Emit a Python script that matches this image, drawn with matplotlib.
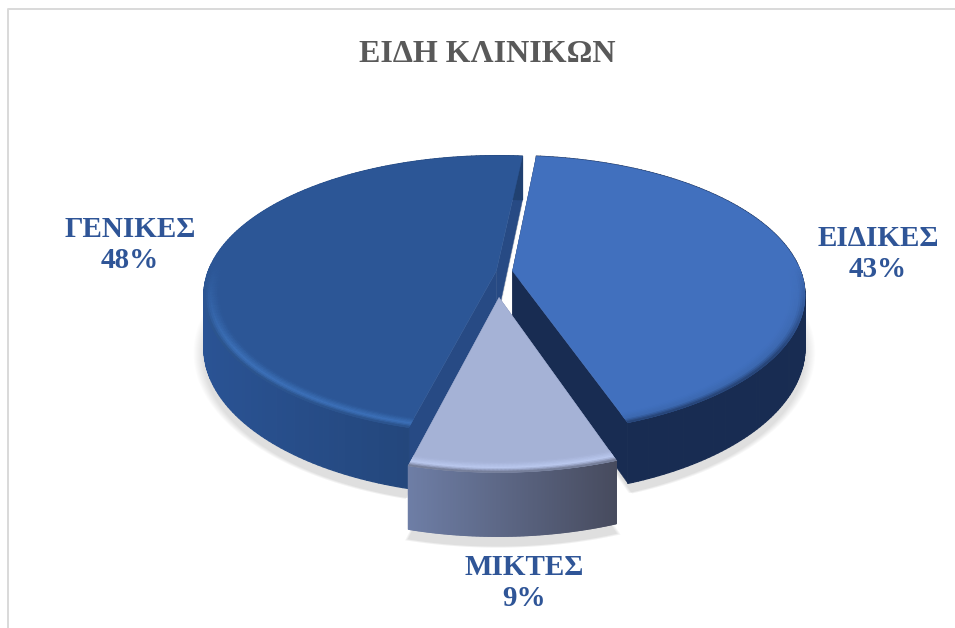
import numpy as np
import matplotlib
matplotlib.use("Agg")
import matplotlib.pyplot as plt
from matplotlib.collections import PolyCollection
from matplotlib.colors import to_rgb


# order is clockwise from the top of the pie
categories = ["ΕΙΔΙΚΕΣ", "ΜΙΚΤΕΣ", "ΓΕΝΙΚΕΣ"]
shares = [43.0, 9.4, 47.6]

title = "ΕΙΔΗ ΚΛΙΝΙΚΩΝ"
start_angle = 5.8

explode = [(0.026, 0.0), (-0.02, 0.19), (-0.03, 0.0)]
top_colors = ["#4170BE", "#A5B2D6", "#2C5696"]
rim_colors = ["#3C68B0", "#BBC9F0", "#3D72BA"]
wall_colors = ["#182C52", "#6E7EA6", "#274A84"]
side_left = ["#182C52", "#6E7EA6", "#2A5394"]
side_right = ["#182C52", "#474B5E", "#20406F"]
label_pos = [(878, 254), (524, 583), (130, 245)]

# projection of the tilted disc on to the figure, in pixels
cx, cy = 505, 271
a, b = 288, 135
k = 0.17
depth = 51


def project(X, Y, z=0):
    s = 1 / (1 - k * np.asarray(Y))
    return cx + a * np.asarray(X) * s, cy + b * np.asarray(Y) * s + z * s


def disc_point(theta, r, off):
    t = np.radians(theta)
    return off[0] + r * np.sin(t), off[1] - r * np.cos(t)


def mix(c1, c2, w):
    return tuple((1 - w) * np.array(to_rgb(c1)) + w * np.array(to_rgb(c2)))


def outline(t0, t1, off, r=1.0, z=0):
    th = np.linspace(t0, t1, 120)
    X, Y = disc_point(th, r, off)
    px, py = project(X, Y, z)
    ax_, ay_ = project(off[0], off[1], z)
    return np.column_stack([np.r_[ax_, px], np.r_[ay_, py]])


def add_cells(ax, cells, colors, zorder, lw=0.9):
    pc = PolyCollection(cells, facecolors=colors, edgecolors=colors,
                        linewidths=lw, zorder=zorder)
    ax.add_collection(pc)


def draw_shadow(ax, t0, t1, off):
    n = 32
    for i in range(n):
        pts = outline(t0, t1, off, r=1.0 + 0.0011 * (n - i), z=depth + 3 + i * 0.15)
        ax.fill(pts[:, 0], pts[:, 1], color="black", alpha=0.0045, lw=0, zorder=1)


def draw_slice(ax, t0, t1, off, i, zorder):
    # flat walls towards the middle of the pie
    for t in (t0, t1):
        x0, y0 = project(off[0], off[1])
        x3, y3 = project(off[0], off[1], depth)
        X, Y = disc_point(t, 1.0, off)
        x1, y1 = project(X, Y)
        x2, y2 = project(X, Y, depth)
        ax.fill([x0, x1, x2, x3], [y0, y1, y2, y3], color=wall_colors[i],
                lw=0.3, zorder=zorder)

    # outer side, shaded from left to right on the screen
    th = np.linspace(t0, t1, 160)
    cells, colors = [], []
    X, Y = disc_point(th, 1.0, off)
    xt, yt = project(X, Y)
    xb, yb = project(X, Y, depth)
    for j in range(len(th) - 1):
        cells.append([(xt[j], yt[j]), (xt[j + 1], yt[j + 1]),
                      (xb[j + 1], yb[j + 1]), (xb[j], yb[j])])
        w = np.clip((xt[j] - xt.min()) / (xt.max() - xt.min()), 0, 1)
        colors.append(mix(side_left[i], side_right[i], w))
    add_cells(ax, cells, colors, zorder + 0.1)

    # top face
    pts = outline(t0, t1, off)
    ax.fill(pts[:, 0], pts[:, 1], color=top_colors[i], lw=0.3, zorder=zorder + 0.2)

    # bevel along the front of the rim
    r0 = 0.95
    radii = np.linspace(r0, 1.0, 9)
    edge = mix(rim_colors[i], side_right[i], 0.7)
    cells, colors = [], []
    for j in range(len(th) - 1):
        Yj = -np.cos(np.radians(th[j]))
        g = np.clip((Yj + 0.05) / 0.6, 0, 1)
        if g <= 0:
            continue
        for n in range(len(radii) - 1):
            X1, Y1 = disc_point(th[j], radii[n], off)
            X2, Y2 = disc_point(th[j + 1], radii[n], off)
            X3, Y3 = disc_point(th[j + 1], radii[n + 1], off)
            X4, Y4 = disc_point(th[j], radii[n + 1], off)
            px, py = project([X1, X2, X3, X4], [Y1, Y2, Y3, Y4])
            cells.append(list(zip(px, py)))
            u = (n + 0.5) / (len(radii) - 1)
            if u < 0.6:
                c = mix(top_colors[i], rim_colors[i], u / 0.6)
            else:
                c = mix(rim_colors[i], edge, (u - 0.6) / 0.4)
            colors.append(mix(top_colors[i], c, g))
    if cells:
        add_cells(ax, cells, colors, zorder + 0.3, lw=0.5)


fig = plt.figure(figsize=(9.55, 6.28), dpi=100)
ax = fig.add_axes([0, 0, 1, 1])
ax.set_xlim(0, 955)
ax.set_ylim(628, 0)
ax.axis("off")

ax.plot([8, 8, 955], [628, 9, 9], color="#D9D9D9", lw=1.4, zorder=0)

total = sum(shares)
angles = start_angle + np.cumsum([0] + shares) / total * 360

for i in range(3):
    draw_shadow(ax, angles[i], angles[i + 1], explode[i])

# back to front: general, special, mixed
for z, i in zip((2, 3, 4), (2, 0, 1)):
    draw_slice(ax, angles[i], angles[i + 1], explode[i], i, z)

ax.text(487, 54, title, ha="center", va="center", family="Liberation Serif",
        fontweight="bold", fontsize=23, color="#595959")

for name, share, pos in zip(categories, shares, label_pos):
    ax.text(pos[0], pos[1], f"{name}\n{round(share)}%", ha="center", va="center",
            family="Liberation Serif", fontweight="bold", fontsize=21,
            color="#2F5597", linespacing=1.2, zorder=10)

fig.savefig("out.png", dpi=100)
